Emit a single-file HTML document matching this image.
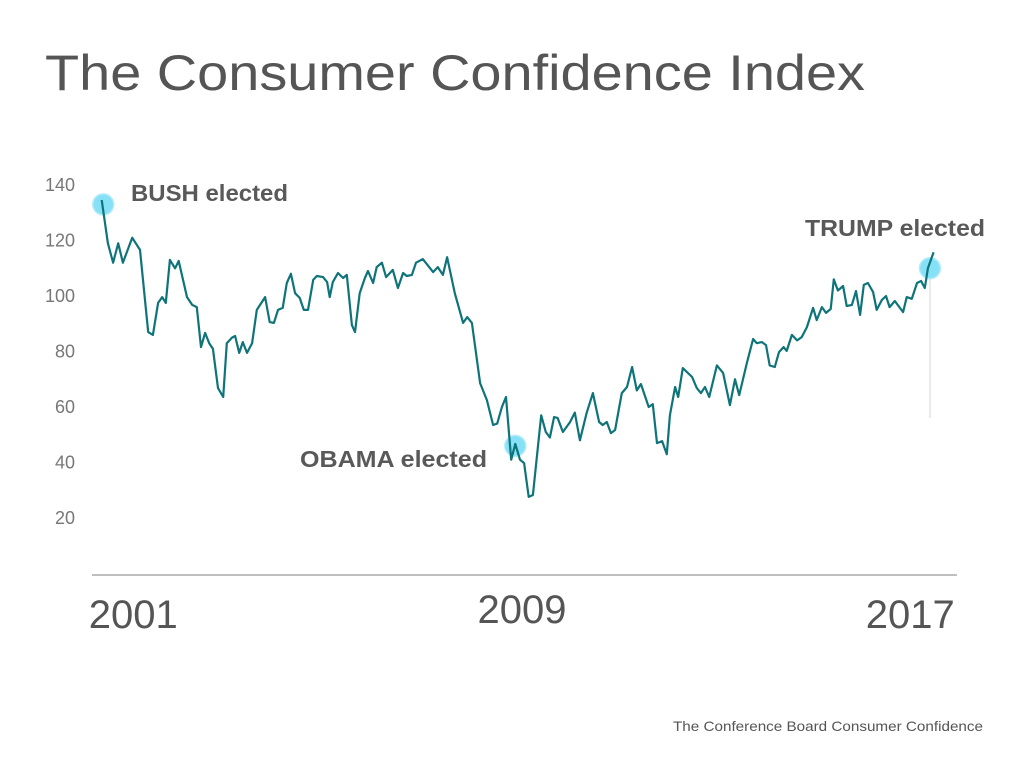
<!DOCTYPE html>
<html><head><meta charset="utf-8"><style>
html,body{margin:0;padding:0;background:#fff;}
svg{display:block;}
text{font-family:"Liberation Sans",sans-serif;}
</style></head><body>
<svg width="1024" height="768" viewBox="0 0 1024 768">
<text x="45" y="90" font-size="50" fill="#555" textLength="820" lengthAdjust="spacingAndGlyphs">The Consumer Confidence Index</text>
<g id="yticks"></g>
<line x1="92" y1="575" x2="957" y2="575" stroke="#aaa" stroke-width="1.5"/>
<g id="xticks"></g>
<line x1="930" y1="268" x2="930" y2="418" stroke="#e4e4e4" stroke-width="1.5"/>
<g id="markers"></g>
<path id="series" fill="none" stroke="#0e7479" stroke-width="2.2" stroke-linejoin="round"/>
<text x="131" y="201" font-size="23" font-weight="bold" fill="#595959" textLength="157" lengthAdjust="spacingAndGlyphs">BUSH elected</text>
<text x="805" y="236" font-size="23" font-weight="bold" fill="#595959" textLength="180" lengthAdjust="spacingAndGlyphs">TRUMP elected</text>
<text x="300" y="467" font-size="23" font-weight="bold" fill="#595959" textLength="187" lengthAdjust="spacingAndGlyphs">OBAMA elected</text>
<text x="673" y="731" font-size="14" fill="#555" textLength="310" lengthAdjust="spacingAndGlyphs">The Conference Board Consumer Confidence</text>
</svg>
<script>
const years = [2000.83,2000.95,2001.05,2001.15,2001.24,2001.42,2001.57,2001.73,2001.82,2001.92,2002.00,2002.07,2002.15,2002.25,2002.32,2002.48,2002.58,2002.67,2002.75,2002.83,2002.91,2002.98,2003.08,2003.18,2003.25,2003.35,2003.41,2003.49,2003.56,2003.64,2003.74,2003.83,2003.99,2004.08,2004.16,2004.24,2004.33,2004.41,2004.49,2004.57,2004.66,2004.74,2004.82,2004.92,2004.99,2005.11,2005.19,2005.24,2005.30,2005.40,2005.50,2005.57,2005.67,2005.73,2005.82,2005.92,2005.98,2006.08,2006.15,2006.25,2006.33,2006.46,2006.56,2006.66,2006.73,2006.83,2006.91,2007.04,2007.24,2007.33,2007.43,2007.51,2007.66,2007.82,2007.90,2007.99,2008.15,2008.28,2008.40,2008.48,2008.57,2008.65,2008.75,2008.83,2008.92,2009.00,2009.09,2009.17,2009.33,2009.42,2009.50,2009.58,2009.65,2009.75,2009.89,2009.98,2010.08,2010.21,2010.33,2010.45,2010.52,2010.60,2010.68,2010.76,2010.89,2010.99,2011.09,2011.18,2011.26,2011.41,2011.49,2011.57,2011.67,2011.76,2011.82,2011.92,2011.98,2012.07,2012.25,2012.34,2012.42,2012.50,2012.58,2012.73,2012.85,2012.98,2013.08,2013.16,2013.31,2013.43,2013.50,2013.60,2013.68,2013.75,2013.85,2013.93,2014.02,2014.08,2014.18,2014.28,2014.37,2014.47,2014.59,2014.66,2014.76,2014.84,2014.93,2014.99,2015.07,2015.17,2015.24,2015.34,2015.42,2015.50,2015.57,2015.65,2015.75,2015.82,2015.92,2016.00,2016.07,2016.17,2016.33,2016.40,2016.50,2016.60,2016.68,2016.75,2016.81,2016.92];
const values = [134.6,119,112,119,112,121,116.6,87,86,97.5,99.6,97.5,113,110,112.6,99.6,96.8,96,81.6,86.7,83,81,66.8,63.6,83,85,85.6,79.5,83.4,79.5,83,95,99.6,90.6,90.3,95,95.7,104.7,108,101,99.3,95,95,105.8,107.2,106.8,105,99.6,105,108.3,106.5,107.6,89.5,87,101,106.5,109,104.7,110.4,112,106.8,109.4,102.9,108.3,107.2,107.6,112,113.3,108.6,110.4,107.6,114,101,90.3,92.4,90.3,68.6,62.5,53.5,54,60,63.6,41,46.7,41,39.8,27.6,28.3,57,51,49,56.4,56,51,54.6,58,48,57.8,65,54.6,53.5,54.6,50.6,51.7,65,67.2,74.4,66,68.3,60,61,47,47.7,43,57,67.2,63.6,74,70.8,66.8,65,67.2,63.6,75,72.3,60.7,70,64.3,75.9,84.5,83,83.4,82.3,75,74.4,79.8,81.6,80.2,86,84,85.2,88.8,95.7,91.3,96,93.9,95.3,106,102,103.6,96.4,96.8,101.8,93.2,104,104.7,101.4,95,98.6,100,96,98.2,94.2,99.6,99,104.7,105.4,102.9,110,115.8];
const yTicks = [140,120,100,80,60,40,20];
const xLabels = ["2001","2009","2017"];
const xLabelYears = [2001.44,2008.96,2016.47];
const eventYears = [2000.86,2008.83,2016.85];
const eventValues = [133,46,110];

function xs(y){ return 101.7 + (y - 2000.83) * 51.7; }
function ys(v){ return 518 - (v - 20) * 2.775; }

const NS = "http://www.w3.org/2000/svg";
const yg = document.getElementById('yticks');
yTicks.forEach(t => {
  const el = document.createElementNS(NS,'text');
  el.setAttribute('x', 75);
  el.setAttribute('y', ys(t) + 6);
  el.setAttribute('text-anchor','end');
  el.setAttribute('font-size','18');
  el.setAttribute('fill','#777');
  el.textContent = t;
  
  
  yg.appendChild(el);
});
const xg = document.getElementById('xticks');
xLabels.forEach((l,i) => {
  const el = document.createElementNS(NS,'text');
  el.setAttribute('x', xs(xLabelYears[i]));
  el.setAttribute('y', i === 1 ? 623 : 628);
  el.setAttribute('text-anchor','middle');
  el.setAttribute('font-size','40');
  el.setAttribute('fill','#555');
  el.textContent = l;
  
  
  xg.appendChild(el);
});
const mg = document.getElementById('markers');
eventYears.forEach((y,i) => {
  const c = document.createElementNS(NS,'circle');
  c.setAttribute('cx', xs(y));
  c.setAttribute('cy', ys(eventValues[i]));
  c.setAttribute('r', 10.5);
  c.setAttribute('fill', '#86e0f6');
  c.setAttribute('stroke', '#b5ecfa');
  c.setAttribute('stroke-width', '1.5');
  
  
  mg.appendChild(c);
});
let d = '';
years.forEach((y,i) => { d += (i ? 'L' : 'M') + xs(y).toFixed(1) + ',' + ys(values[i]).toFixed(1); });
document.getElementById('series').setAttribute('d', d);
</script>
</body></html>
